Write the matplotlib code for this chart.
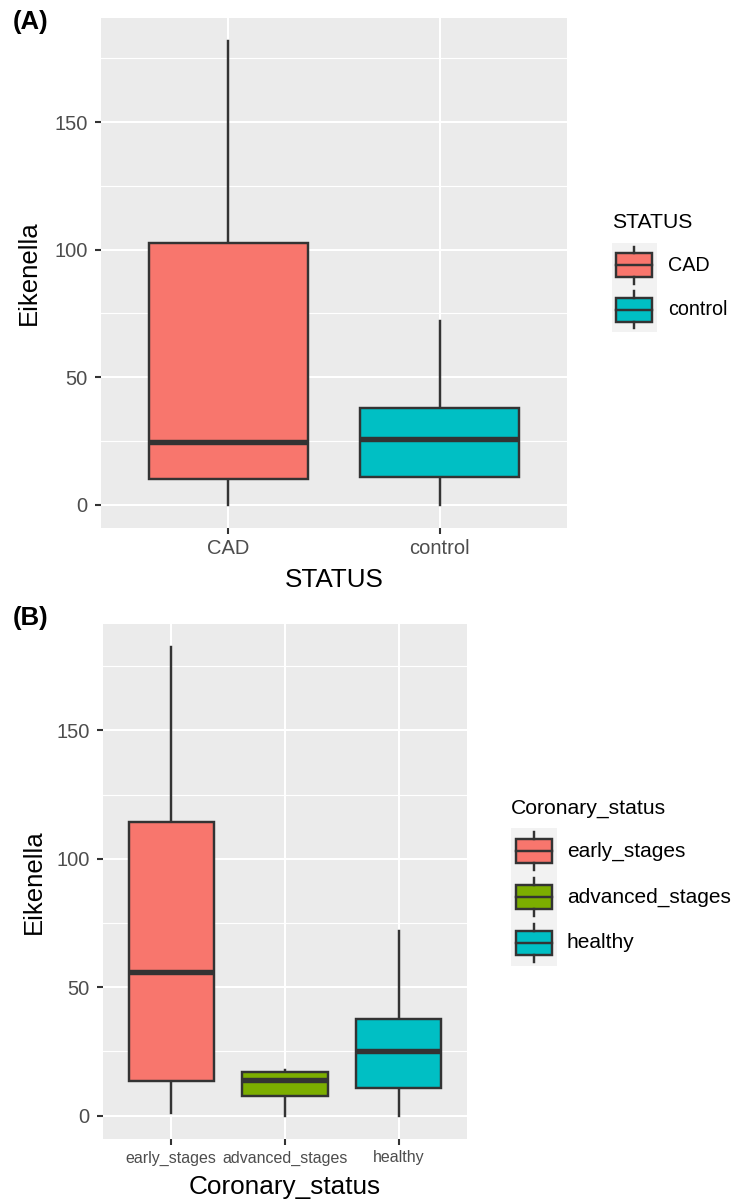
import matplotlib
matplotlib.use("Agg")
import matplotlib.pyplot as plt
from matplotlib.patches import Rectangle
from matplotlib.lines import Line2D

plt.rcParams['font.family'] = ['Liberation Sans', 'DejaVu Sans']

# ---------------- data ----------------
status_labels = ["CAD", "control"]
status_colors = ["#F8766D", "#00BFC4"]
a_whislo = [0.0, 0.0]
a_q1 = [10.2, 11.0]
a_med = [24.7, 25.8]
a_q3 = [102.6, 38.0]
a_whishi = [181.7, 72.0]

coronary_labels = ["early_stages", "advanced_stages", "healthy"]
coronary_colors = ["#F8766D", "#7CAE00", "#00BFC4"]
b_whislo = [1.0, 0.0, 0.0]
b_q1 = [13.6, 7.8, 10.9]
b_med = [56.0, 14.0, 25.3]
b_q3 = [114.3, 17.1, 37.7]
b_whishi = [182.3, 17.9, 72.0]

y_ticks = [0, 50, 100, 150]
y_minor = [25, 75, 125, 175]

W, H = 736, 1201
DPI = 100
fig = plt.figure(figsize=(W / DPI, H / DPI), dpi=DPI)

EDGE = "#333333"
TICKC = "#4D4D4D"
BG = "#EBEBEB"
LW = 1.75


def px_axes(l, t, r, b):
    return fig.add_axes([l / W, 1 - b / H, (r - l) / W, (b - t) / H])


def draw_panel(ax, labels, colors, lo, q1, med, q3, hi, xfs, ylab_x, xlab_y,
               xtitle):
    stats = []
    for i in range(len(labels)):
        stats.append(dict(label=labels[i], whislo=lo[i], q1=q1[i], med=med[i],
                          q3=q3[i], whishi=hi[i], fliers=[]))
    pos = list(range(1, len(labels) + 1))
    ax.set_facecolor(BG)
    for s in ax.spines.values():
        s.set_visible(False)
    ymin = min(lo)
    ymax = max(hi)
    pad = 0.05 * (ymax - ymin)
    ax.set_ylim(ymin - pad, ymax + pad)
    ax.set_xlim(0.4, len(labels) + 0.6)
    for v in y_minor:
        ax.axhline(v, color="white", lw=0.8, zorder=0.5)
    for v in y_ticks:
        ax.axhline(v, color="white", lw=1.5, zorder=0.6)
    for p in pos:
        ax.axvline(p, color="white", lw=1.5, zorder=0.6)
    bp = ax.bxp(stats, positions=pos, widths=0.75, patch_artist=True,
                showcaps=False, showfliers=False,
                boxprops=dict(edgecolor=EDGE, linewidth=LW),
                whiskerprops=dict(color=EDGE, linewidth=LW),
                medianprops=dict(color=EDGE, linewidth=3.9,
                                 solid_capstyle="butt"))
    for patch, c in zip(bp["boxes"], colors):
        patch.set_facecolor(c)
        patch.set_zorder(2)
    for ln in bp["whiskers"]:
        ln.set_zorder(1.5)
    for ln in bp["medians"]:
        ln.set_zorder(3)
    ax.set_yticks(y_ticks)
    ax.set_yticklabels([str(v) for v in y_ticks])
    ax.set_xticks(pos)
    ax.set_xticklabels(labels)
    ax.tick_params(axis="y", length=4.2, width=1.5, color=EDGE,
                   labelcolor=TICKC, labelsize=14.5, pad=5.5)
    ax.tick_params(axis="x", length=4.2, width=1.5, color=EDGE,
                   labelcolor=TICKC, labelsize=xfs, pad=4)
    ax.set_ylabel("Eikenella", fontsize=18.5, color="black", va="center")
    ax.yaxis.set_label_coords(ylab_x, 0.5)
    ax.set_xlabel(xtitle, fontsize=18.8, color="black", va="center")
    ax.xaxis.set_label_coords(0.5, xlab_y)


def draw_legend(title, labels, colors, x, title_y, key_top, key_size,
                label_x, fs_title, fs_text):
    fig.text(x / W, 1 - title_y / H, title, fontsize=fs_title,
             va="center", ha="left")
    for i, (lab, c) in enumerate(zip(labels, colors)):
        t = key_top + i * key_size
        kax = px_axes(x, t, x + key_size, t + key_size)
        kax.set_xlim(0, 1)
        kax.set_ylim(0, 1)
        kax.set_facecolor("#F2F2F2")
        kax.set_xticks([])
        kax.set_yticks([])
        for s in kax.spines.values():
            s.set_visible(False)
        kax.add_line(Line2D([0.5, 0.5], [0.08, 0.23], color=EDGE, lw=LW))
        kax.add_line(Line2D([0.5, 0.5], [0.77, 0.92], color=EDGE, lw=LW))
        kax.add_patch(Rectangle((0.1, 0.23), 0.8, 0.54, facecolor=c,
                                edgecolor=EDGE, lw=LW))
        kax.add_line(Line2D([0.1, 0.9], [0.5, 0.5], color=EDGE, lw=LW))
        fig.text(label_x / W, 1 - (t + key_size / 2) / H, lab,
                 fontsize=fs_text, va="center", ha="left")


# Panel A
axA = px_axes(101, 18, 567, 528)
draw_panel(axA, status_labels, status_colors, a_whislo, a_q1, a_med, a_q3,
           a_whishi, 14.5, (29 - 101) / 466, (528 - 580) / 510, "STATUS")
draw_legend("STATUS", status_labels, status_colors, 612, 222, 243, 44.5,
            668, 15.2, 14.2)
fig.text(13 / W, 1 - 22 / H, "(A)", fontsize=18.5, fontweight="bold",
         va="center", ha="left")

# Panel B
axB = px_axes(103, 624, 467, 1139)
draw_panel(axB, coronary_labels, coronary_colors, b_whislo, b_q1, b_med,
           b_q3, b_whishi, 11.5, (34 - 103) / 364, (1139 - 1187) / 515,
           "Coronary_status")
draw_legend("Coronary_status", coronary_labels, coronary_colors, 511, 808,
            828, 46, 567, 15.2, 15.0)
fig.text(13 / W, 1 - 618 / H, "(B)", fontsize=18.5, fontweight="bold",
         va="center", ha="left")

fig.savefig("out.png", dpi=DPI)
